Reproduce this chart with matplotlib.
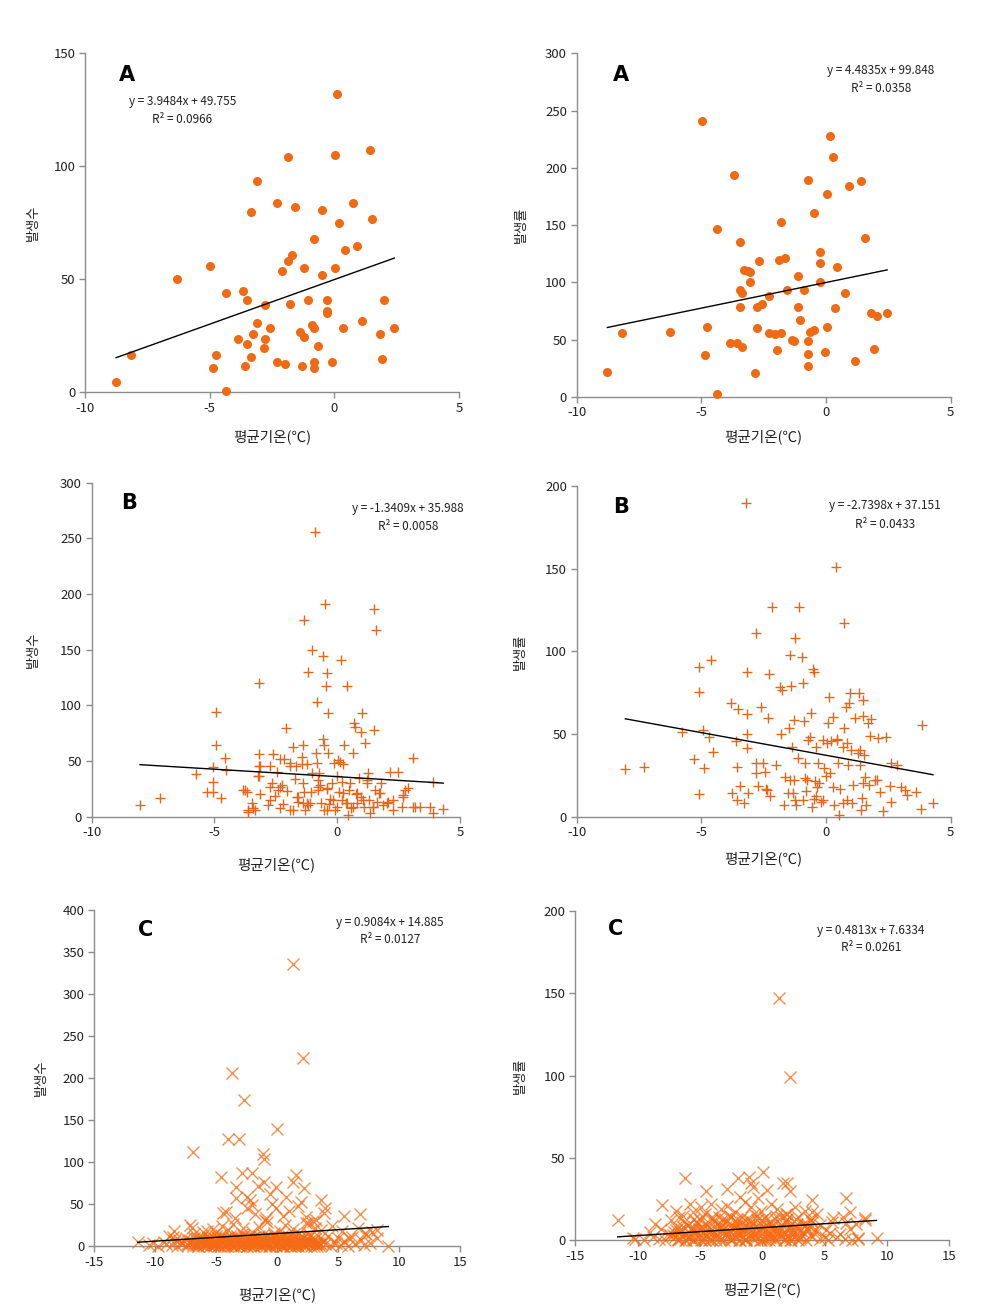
import numpy as np
import matplotlib
matplotlib.use('Agg')
import matplotlib.pyplot as plt

plt.rcParams['font.family'] = ['Noto Sans CJK KR', 'DejaVu Sans']
plt.rcParams['axes.unicode_minus'] = False

# ---------------- data ----------------
# (mean temp, value) pairs

# A : count
a_count = [(-8.75, 4.5), (-8.17, 16.5), (-6.29, 49.9), (-4.98, 55.8), (-4.88, 10.5), (-4.74, 16.5),
           (-4.34, 43.8), (-4.34, 0.6), (-3.86, 23.6), (-3.67, 44.8), (-3.50, 40.9), (-3.50, 21.4),
           (-3.58, 11.5), (-3.35, 79.6), (-3.35, 15.5), (-3.25, 25.5), (-3.09, 93.5), (-3.09, 30.4),
           (-2.77, 38.5), (-2.77, 23.6), (-2.81, 19.6), (-2.59, 28.5), (-2.28, 83.6), (-2.28, 13.4),
           (-2.09, 53.7), (-1.96, 12.4), (-1.87, 104), (-1.87, 57.8), (-1.68, 60.8), (-1.77, 38.9),
           (-1.57, 81.7), (-1.38, 26.5), (-1.29, 11.5), (-1.21, 54.9), (-1.21, 24.5), (-1.05, 40.9),
           (-0.89, 29.5), (-0.80, 28.5), (-0.80, 67.7), (-0.80, 13.4), (-0.80, 10.5), (-0.65, 20.5),
           (-0.49, 80.7), (-0.49, 51.8), (-0.29, 40.9), (-0.29, 35.8), (-0.29, 34.8), (-0.08, 13.4),
           (0.02, 105), (0.02, 54.9), (0.11, 132), (0.19, 74.8), (0.34, 28.5), (0.43, 62.8),
           (0.75, 83.6), (0.93, 64.7), (1.11, 31.4), (1.42, 107), (1.51, 76.7), (1.83, 25.5),
           (1.93, 14.5), (2.01, 40.9), (2.41, 28.5)]

# A : rate
a_rate = [(-8.77, 21.3), (-8.18, 55.9), (-6.26, 56.5), (-4.99, 241), (-4.86, 36.1), (-4.76, 60.6),
          (-4.36, 146.8), (-4.36, 2.6), (-3.87, 47.2), (-3.68, 194), (-3.59, 47.2), (-3.46, 135),
          (-3.46, 93.2), (-3.46, 78.3), (-3.36, 90.9), (-3.36, 43.1), (-3.28, 110.7), (-3.13, 110),
          (-3.04, 108.6), (-3.04, 99.9), (-2.85, 20.4), (-2.77, 59.7), (-2.77, 78.3), (-2.68, 118.5),
          (-2.55, 81), (-2.28, 88.3), (-2.28, 55.9), (-2.05, 54.5), (-1.96, 40.8), (-1.88, 119.1),
          (-1.79, 152.9), (-1.79, 55.9), (-1.63, 121.2), (-1.56, 93.2), (-1.37, 49.8), (-1.28, 48.9),
          (-1.14, 105.7), (-1.14, 78.3), (-1.05, 67.3), (-0.88, 93.2), (-0.74, 189), (-0.74, 48.6),
          (-0.74, 37), (-0.74, 27.1), (-0.65, 56.8), (-0.48, 160.8), (-0.48, 58.3), (-0.25, 126.4),
          (-0.25, 116.5), (-0.25, 99.9), (-0.06, 39), (0.03, 177.4), (0.03, 60.6), (0.16, 227.5),
          (0.26, 209.7), (0.34, 77.2), (0.43, 113.6), (0.75, 90.9), (0.93, 184.4), (1.15, 31.2),
          (1.42, 188.2), (1.55, 138.9), (1.82, 73.4), (1.91, 41.9), (2.05, 70.5), (2.45, 73.4)]

# B : count
b_count = [(-8.03, 10.5), (-7.22, 17), (-5.77, 38), (-5.32, 22), (-5.05, 22), (-5.05, 31), (-5.05, 45),
           (-4.93, 94), (-4.93, 64), (-4.73, 17), (-4.55, 53), (-4.51, 42), (-3.76, 24), (-3.62, 4.5),
           (-3.69, 22.5), (-3.48, 12), (-3.42, 7.5), (-3.35, 6), (-3.21, 37), (-3.17, 120), (-3.17, 56),
           (-3.17, 45.5), (-3.17, 36.5), (-3.15, 20), (-2.81, 10.5), (-2.74, 46), (-2.67, 30), (-2.60, 56),
           (-2.53, 18.5), (-2.47, 40), (-2.40, 24), (-2.33, 7.5), (-2.26, 28.5), (-2.22, 11.5), (-2.17, 52),
           (-2.09, 80), (-2.04, 23), (-1.93, 46), (-1.79, 63), (-1.79, 6), (-1.72, 34), (-1.68, 46),
           (-1.61, 18), (-1.58, 13.5), (-1.45, 54), (-1.45, 47), (-1.41, 64), (-1.38, 30.5), (-1.38, 12),
           (-1.35, 177), (-1.35, 22.5), (-1.31, 6), (-1.24, 47), (-1.18, 130), (-1.18, 10.5), (-1.11, 12),
           (-1.08, 22.5), (-1.04, 150), (-0.91, 256), (-0.87, 57.5), (-0.84, 103), (-0.81, 48), (-0.80, 33),
           (-0.80, 24), (-0.73, 39), (-0.70, 28.5), (-0.66, 12), (-0.59, 144), (-0.57, 69.5), (-0.54, 64),
           (-0.54, 6), (-0.50, 191), (-0.46, 117), (-0.43, 129), (-0.43, 24.5), (-0.37, 93), (-0.37, 57.5),
           (-0.32, 11), (-0.30, 15.5), (-0.20, 30), (-0.14, 48.5), (-0.10, 6), (0.00, 9), (0.00, 36.5),
           (0.04, 51), (0.07, 22.5), (0.14, 141), (0.20, 31.5), (0.20, 15), (0.24, 47), (0.27, 64),
           (0.34, 12), (0.38, 117), (0.45, 1.5), (0.47, 24), (0.58, 7.5), (0.65, 57.5), (0.68, 84),
           (0.72, 81), (0.75, 20), (0.81, 12), (0.88, 34.5), (0.95, 18), (0.99, 76), (1.02, 93.5),
           (1.08, 9), (1.15, 66.5), (1.22, 30), (1.26, 39), (1.29, 15), (1.33, 3), (1.45, 9), (1.51, 78),
           (1.51, 187), (1.55, 24), (1.58, 168), (1.62, 13.5), (1.69, 21), (1.78, 30), (1.88, 10.5),
           (2.08, 13.5), (2.15, 40.5), (2.29, 6), (2.49, 40.5), (2.62, 9), (2.69, 19.5), (2.76, 24),
           (2.89, 25.5), (3.10, 52.5), (3.17, 9), (3.37, 9), (3.78, 9), (3.91, 31.5), (3.91, 3), (4.32, 6.5),
           (-3.83, 24), (-3.62, 6), (-2.74, 27), (-2.33, 27), (-1.65, 18), (-1.24, 12), (-0.43, 25.5),
           (-0.16, 15), (0.25, 21), (0.66, 9), (0.80, 21), (1.07, 15), (1.47, 9), (1.74, 21), (2.02, 12),
           (2.29, 15), (2.69, 18), (3.10, 9), (-0.77, 27), (-1.04, 39), (-1.92, 48), (-2.33, 52),
           (-3.15, 46), (0.13, 49), (1.20, 33), (0.52, 30), (-1.92, 6), (-0.43, 6), (0.39, 12), (-2.74, 15)]

# B : rate
b_rate = [(-8.05, 28.6), (-7.30, 30.2), (-5.79, 51), (-5.29, 34.7), (-5.10, 90.3), (-5.10, 75.2),
          (-5.10, 13.7), (-4.93, 52.6), (-4.90, 29.2), (-4.69, 48.4), (-4.62, 94.8), (-4.53, 39.3),
          (-3.83, 69), (-3.62, 46), (-3.59, 30.2), (-3.52, 64.9), (-3.79, 14.5), (-3.59, 10), (-3.46, 18.5),
          (-3.28, 8.5), (-3.19, 87.7), (-3.19, 62), (-3.19, 50), (-3.19, 41.3), (-3.22, 190), (-3.12, 14.1),
          (-2.82, 110.9), (-2.79, 32.7), (-2.79, 26.6), (-2.72, 18.5), (-2.62, 66.5), (-2.52, 32.3),
          (-2.46, 27.2), (-2.39, 16.5), (-2.32, 59.5), (-2.28, 86.3), (-2.26, 12.5), (-2.15, 126.6),
          (-1.99, 31.3), (-1.86, 78.2), (-1.79, 49.8), (-1.75, 76.6), (-1.70, 7), (-1.66, 23.8),
          (-1.52, 14.5), (-1.48, 53.4), (-1.43, 97.8), (-1.39, 79), (-1.35, 42.3), (-1.30, 58.7),
          (-1.30, 22.2), (-1.26, 108.3), (-1.24, 10), (-1.19, 7), (-1.12, 35.3), (-1.08, 126.6),
          (-0.95, 96.8), (-0.92, 80.6), (-0.89, 58), (-0.85, 32.3), (-0.85, 23.2), (-0.81, 15.7),
          (-0.72, 46.4), (-0.65, 48.4), (-0.59, 62.9), (-0.55, 5.6), (-0.52, 89.1), (-0.49, 10.5),
          (-0.47, 87.7), (-0.45, 21.8), (-0.41, 41.9), (-0.40, 12.5), (-0.33, 32.3), (-0.27, 20.6),
          (-0.20, 9.1), (-0.11, 46.4), (-0.07, 29.2), (0.00, 24.6), (0.07, 56.5), (0.13, 72.2), (0.20, 46),
          (0.27, 17.7), (0.29, 60.1), (0.33, 7), (0.40, 151.2), (0.43, 46.8), (0.47, 32.3), (0.51, 1),
          (0.56, 16.5), (0.67, 8.1), (0.71, 116.9), (0.73, 53.4), (0.80, 66.1), (0.83, 44.4), (0.87, 31.3),
          (0.91, 68.5), (0.96, 75), (1.00, 40.3), (1.04, 8.1), (1.07, 19.2), (1.17, 59.5), (1.27, 38.3),
          (1.31, 75), (1.36, 31.3), (1.40, 4), (1.44, 11.1), (1.47, 70.6), (1.50, 60.9), (1.53, 37.3),
          (1.57, 24.2), (1.60, 7), (1.67, 56.9), (1.73, 19.2), (1.76, 48.8), (1.80, 58.9), (1.95, 22.2),
          (2.08, 47.4), (2.15, 15.1), (2.28, 3.6), (2.42, 48.4), (2.55, 18.5), (2.62, 32.3), (2.62, 9.1),
          (2.84, 31.3), (3.02, 18.1), (3.15, 16.1), (3.24, 13.1), (3.62, 15.1), (3.82, 4.4), (3.86, 55.4),
          (4.29, 8.1), (-1.44, 22.2), (-0.77, 22.2), (-0.37, 18.1), (0.16, 26.2), (0.83, 10.1),
          (1.50, 20.2), (2.03, 22.2), (-0.91, 10.1), (-0.11, 10.1), (-2.38, 16.1), (-1.31, 14.1),
          (0.69, 42.3), (1.36, 40.3), (0.43, 46.4), (0.03, 44.4)]

# C : count
c_count = [(1.26, 335.7), (2.13, 223.4), (-3.67, 206.3), (-2.71, 173.8), (-0.03, 138.9), (-4.0, 127),
           (-3.12, 127), (-6.93, 112.3), (-1.20, 109.1), (-1.12, 103.2), (-4.59, 81.7), (-2.87, 86.5),
           (-2.05, 86.5), (1.53, 84.5), (1.26, 76.6), (-1.07, 76.6), (-3.34, 70.6), (-1.61, 71.4),
           (-0.11, 70.6), (2.21, 68.7), (-3.40, 56.7), (-2.45, 58.7), (0.71, 57.9), (3.58, 54.8),
           (1.94, 52.8), (-2.05, 48.8), (-0.11, 44.8), (-4.43, 39.7), (3.86, 39.7), (5.51, 35.7),
           (6.79, 38.1), (-7.13, 25), (-5.78, 18.3), (-11.45, 5.2), (9.12, 0), (7.20, 15), (8.16, 19),
           (-0.93, 32.9), (2.35, 27), (3.17, 31), (5.92, 9), (4.83, 3), (3.45, 4), (-10.22, 3),
           (-8.58, 11), (-8.04, 7),
           (-10.5, 1), (-9.8, 0), (-9.1, 2), (-8.6, 1), (-8.2, 0), (-7.7, 3), (-7.3, 1), (-6.9, 2),
           (-6.5, 0), (-6.2, 1), (-5.8, 3), (-5.5, 0), (-5.1, 2), (-4.8, 1), (-4.4, 0), (-4.1, 2),
           (-3.7, 1), (-3.4, 3), (-3.0, 0), (-2.7, 2), (-2.3, 1), (-2.0, 0), (-1.6, 3), (-1.3, 1),
           (-0.9, 2), (-0.6, 0), (-0.2, 1), (0.1, 3), (0.5, 0), (0.8, 2), (1.2, 1), (1.5, 0), (1.9, 2),
           (2.2, 1), (2.6, 3), (3.0, 0), (3.4, 1), (3.9, 2), (4.4, 0), (5.2, 1), (5.8, 0), (6.4, 2),
           (7.1, 1), (7.6, 3),
           (-9.3, 5), (-8.4, 7), (-7.9, 4), (-7.1, 6), (-6.6, 8), (-6.0, 5), (-5.6, 7), (-5.2, 4),
           (-4.7, 6), (-4.3, 8), (-3.9, 5), (-3.5, 7), (-3.1, 4), (-2.6, 6), (-2.2, 8), (-1.8, 5),
           (-1.4, 7), (-1.0, 4), (-0.5, 6), (-0.1, 8), (0.3, 5), (0.7, 7), (1.1, 4), (1.6, 6), (2.0, 8),
           (2.4, 5), (2.9, 7), (3.3, 4), (3.8, 6), (4.6, 5), (5.5, 6), (6.9, 7),
           (-8.9, 12), (-7.5, 10), (-6.8, 14), (-6.3, 9), (-5.7, 11), (-5.0, 15), (-4.6, 13), (-3.8, 10),
           (-3.3, 12), (-2.9, 14), (-2.4, 9), (-1.9, 11), (-1.2, 13), (-0.7, 10), (-0.3, 15), (0.4, 12),
           (0.9, 9), (1.4, 14), (2.1, 11), (2.7, 13), (3.5, 10), (4.2, 12), (5.0, 9), (6.1, 11),
           (7.3, 14), (8.2, 10),
           (-8.5, 18), (-7.0, 22), (-6.1, 17), (-5.3, 20), (-4.5, 24), (-4.0, 19), (-3.6, 26), (-2.8, 21),
           (-2.1, 17), (-1.5, 23), (-0.8, 28), (0.2, 18), (0.6, 25), (1.3, 20), (1.8, 16), (2.5, 27),
           (3.1, 22), (3.6, 19), (4.5, 24), (5.3, 18), (6.6, 21), (7.8, 17),
           (-4.2, 40), (-3.5, 33), (-2.5, 45), (-1.8, 38), (-1.0, 31), (-0.4, 50), (0.5, 36), (1.0, 42),
           (1.7, 48), (2.4, 35), (2.9, 30), (3.9, 45), (-2.2, 55), (-0.6, 62),
           # dense core
           (-7.4, 2), (-7.0, 5), (-6.7, 1), (-6.4, 4), (-6.1, 7), (-5.9, 2), (-5.6, 5), (-5.3, 1),
           (-5.1, 8), (-4.9, 3), (-4.6, 6), (-4.4, 2), (-4.2, 9), (-4.0, 4), (-3.8, 1), (-3.6, 6),
           (-3.4, 3), (-3.2, 8), (-3.0, 5), (-2.8, 2), (-2.6, 7), (-2.4, 4), (-2.2, 1), (-2.0, 6),
           (-1.8, 3), (-1.6, 9), (-1.4, 5), (-1.2, 2), (-1.0, 7), (-0.8, 4), (-0.6, 1), (-0.4, 8),
           (-0.2, 3), (0.0, 6), (0.2, 2), (0.4, 9), (0.6, 4), (0.8, 1), (1.0, 7), (1.2, 3), (1.4, 5),
           (1.6, 2), (1.8, 8), (2.0, 4), (2.3, 1), (2.6, 6), (2.9, 3), (3.2, 2),
           (-6.8, 9), (-6.2, 11), (-5.7, 10), (-5.0, 12), (-4.5, 10), (-3.9, 12), (-3.3, 11), (-2.7, 13),
           (-2.1, 10), (-1.5, 12), (-0.9, 11), (-0.3, 13), (0.3, 10), (0.9, 12), (1.5, 11), (2.1, 10),
           (2.7, 12),
           (-6.5, 0), (-5.8, 0), (-5.2, 0), (-4.7, 0), (-4.1, 0), (-3.6, 0), (-3.1, 0), (-2.5, 0),
           (-1.9, 0), (-1.3, 0), (-0.7, 0), (-0.1, 0), (0.5, 0), (1.1, 0), (1.7, 0), (2.4, 0), (3.3, 0),
           (-7.2, 4), (-6.9, 0), (-6.6, 3), (-6.3, 6), (-6.0, 1), (-5.7, 4), (-5.4, 2), (-5.15, 6),
           (-4.85, 0), (-4.55, 4), (-4.3, 1), (-4.05, 5), (-3.75, 3), (-3.5, 0), (-3.25, 5), (-2.95, 2),
           (-2.7, 4), (-2.45, 0), (-2.15, 5), (-1.95, 2), (-1.7, 4), (-1.45, 1), (-1.15, 5), (-0.95, 0),
           (-0.65, 3), (-0.45, 6), (-0.15, 1), (0.05, 4), (0.35, 0), (0.55, 5), (0.85, 3), (1.05, 0),
           (1.35, 4), (1.65, 1), (1.85, 5), (2.15, 2), (2.45, 4), (2.75, 0), (3.05, 3), (3.6, 2),
           (-5.5, 9), (-4.8, 8), (-4.0, 10), (-3.0, 9), (-2.3, 11), (-1.7, 8), (-1.1, 10), (-0.5, 9),
           (0.1, 11), (0.7, 8), (1.3, 9), (1.9, 11), (2.5, 9), (3.1, 8)]

# C : rate
c_rate = [(1.34, 147), (2.20, 99.4), (0.05, 41.7), (-1.07, 38.7), (-1.96, 37.7), (-6.17, 37.7),
          (1.66, 35), (2.01, 35), (-0.88, 34.6), (-4.54, 30.2), (-2.80, 31), (0.38, 30.6), (2.20, 29.6),
          (-0.75, 32.6), (-1.82, 26.5), (-0.35, 25.5), (6.75, 25.5), (4.02, 24.5), (-5.79, 22),
          (-8.07, 21.5), (7.02, 17.4), (-11.6, 12.3), (8.22, 13.4), (9.16, 1.2), (-10.40, 1.2),
          (5.0, 2.2), (5.40, 4.3), (7.68, 1.2), (5.67, 13.4), (6.75, 10.3),
          (-10.2, 1), (-9.5, 0), (-8.8, 2), (-8.3, 1), (-7.8, 0), (-7.4, 3), (-7.0, 2), (-6.6, 1),
          (-6.2, 0), (-5.8, 2), (-5.4, 1), (-5.0, 3), (-4.6, 0), (-4.2, 1), (-3.8, 2), (-3.4, 0),
          (-3.0, 3), (-2.6, 1), (-2.2, 2), (-1.8, 0), (-1.4, 1), (-1.0, 3), (-0.6, 2), (-0.2, 0),
          (0.2, 1), (0.6, 2), (1.0, 0), (1.4, 3), (1.8, 1), (2.2, 0), (2.6, 2), (3.0, 1), (3.5, 0),
          (4.0, 2), (4.6, 1), (5.3, 0), (6.0, 2), (6.6, 1), (7.2, 0), (7.7, 1),
          (-9.0, 5), (-8.1, 7), (-7.6, 4), (-6.9, 6), (-6.4, 8), (-5.9, 5), (-5.5, 6), (-5.1, 7),
          (-4.7, 4), (-4.3, 8), (-3.9, 5), (-3.5, 6), (-3.1, 7), (-2.7, 4), (-2.3, 8), (-1.9, 6),
          (-1.5, 5), (-1.1, 7), (-0.7, 4), (-0.3, 6), (0.1, 8), (0.5, 5), (0.9, 7), (1.3, 6), (1.7, 4),
          (2.1, 8), (2.5, 5), (3.0, 6), (3.6, 7), (4.3, 5), (5.1, 6), (6.2, 4), (7.0, 7),
          (-8.6, 10), (-7.3, 12), (-6.7, 14), (-6.0, 9), (-5.3, 11), (-4.8, 15), (-4.0, 13), (-3.6, 10),
          (-3.2, 12), (-2.5, 14), (-2.0, 9), (-1.6, 11), (-1.2, 13), (-0.8, 10), (-0.4, 15), (0.3, 12),
          (0.8, 9), (1.5, 14), (2.0, 11), (2.7, 13), (3.3, 10), (3.9, 12), (4.6, 9), (5.6, 11),
          (6.5, 14), (7.5, 10), (8.2, 12),
          (-6.9, 18), (-5.6, 17), (-4.9, 20), (-4.1, 22), (-3.3, 19), (-2.8, 21), (-2.2, 17), (-1.4, 23),
          (-0.9, 20), (-0.1, 18), (0.7, 22), (1.2, 19), (1.9, 16), (2.6, 20), (3.4, 18), (4.0, 17),
          (4.4, 16),
          # dense core
          (-7.2, 3), (-6.9, 8), (-6.6, 5), (-6.3, 11), (-6.0, 2), (-5.7, 7), (-5.4, 4), (-5.2, 10),
          (-4.9, 6), (-4.7, 1), (-4.4, 9), (-4.2, 5), (-3.9, 12), (-3.7, 3), (-3.4, 8), (-3.2, 6),
          (-2.9, 11), (-2.7, 2), (-2.5, 9), (-2.2, 5), (-2.0, 13), (-1.8, 4), (-1.5, 8), (-1.3, 1),
          (-1.1, 10), (-0.9, 6), (-0.6, 3), (-0.4, 12), (-0.2, 7), (0.0, 4), (0.3, 9), (0.5, 2),
          (0.7, 11), (0.9, 6), (1.2, 3), (1.4, 8), (1.7, 5), (1.9, 12), (2.2, 2), (2.5, 7), (2.8, 10),
          (3.1, 4), (3.4, 9), (3.7, 6), (4.0, 11),
          (-6.4, 15), (-5.5, 13), (-4.6, 16), (-3.5, 14), (-2.6, 15), (-1.6, 14), (-0.7, 16), (0.2, 14),
          (1.1, 15), (2.0, 16), (2.9, 14), (3.8, 13),
          (-6.8, 0), (-6.1, 0), (-5.5, 0), (-4.9, 0), (-4.3, 0), (-3.7, 0), (-3.1, 0), (-2.5, 0),
          (-1.9, 0), (-1.3, 0), (-0.7, 0), (-0.1, 0), (0.5, 0), (1.1, 0), (1.7, 0), (2.3, 0), (2.9, 0),
          (-7.1, 5), (-6.8, 1), (-6.5, 7), (-6.2, 3), (-5.95, 9), (-5.65, 0), (-5.35, 6), (-5.05, 2),
          (-4.8, 8), (-4.5, 3), (-4.25, 6), (-4.0, 0), (-3.7, 7), (-3.45, 2), (-3.2, 9), (-2.95, 4),
          (-2.65, 6), (-2.4, 1), (-2.1, 8), (-1.85, 3), (-1.6, 6), (-1.35, 0), (-1.05, 8), (-0.8, 2),
          (-0.5, 5), (-0.25, 9), (0.05, 1), (0.25, 6), (0.55, 3), (0.8, 8), (1.05, 2), (1.3, 5),
          (1.6, 9), (1.85, 1), (2.1, 6), (2.4, 3), (2.7, 8), (3.0, 2), (3.3, 5), (3.6, 10), (3.9, 3),
          (4.2, 7),
          (-5.0, 12), (-3.0, 13), (-1.0, 12), (1.0, 13), (-4.0, 14), (-2.0, 11), (0.0, 12), (2.0, 13)]

# Excel trend lines (slope, intercept, R^2)
a_count_fit = (3.9484, 49.755, '0.0966')
a_rate_fit = (4.4835, 99.848, '0.0358')
b_count_fit = (-1.3409, 35.988, '0.0058')
b_rate_fit = (-2.7398, 37.151, '0.0433')
c_count_fit = (0.9084, 14.885, '0.0127')
c_rate_fit = (0.4813, 7.6334, '0.0261')

xlabel = '평균기온(℃)'
ylabel_count = '발생수'
ylabel_rate = '발생률'

orange = '#F06A14'


def draw_panel(rect, pts, fit, letter, ylabel, xlim, ylim, ystep, marker,
               letter_pos, eq_pos, ylab_x, xlab_y):
    ax = fig.add_axes(rect)
    x, y = np.array(pts).T
    if marker == 'o':
        ax.plot(x, y, 'o', color=orange, ms=6.5, mew=0, clip_on=False, zorder=3)
    elif marker == '+':
        ax.plot(x, y, '+', color='#E2661C', ms=7, mew=1.0, clip_on=False, zorder=3)
    else:
        ax.plot(x, y, 'x', color='#F56A14', ms=8.5, mew=1.0, alpha=0.75, clip_on=False, zorder=3)

    slope, icpt, r2 = fit
    xs = np.array([x.min(), x.max()])
    ax.plot(xs, slope * xs + icpt, color='black', lw=1.0, zorder=4)

    sign = '+' if icpt >= 0 else '-'
    ax.text(eq_pos[0], eq_pos[1], 'y = %sx %s %s' % (('%.4f' % slope), sign, ('%g' % icpt)),
            transform=ax.transAxes, ha='center', va='center', fontsize=8.5, color='#222222')
    ax.text(eq_pos[0], eq_pos[2], 'R² = %s' % r2,
            transform=ax.transAxes, ha='center', va='center', fontsize=8.5, color='#222222')
    ax.text(letter_pos[0], letter_pos[1], letter, transform=ax.transAxes,
            ha='center', va='center', fontsize=15, fontweight='bold', family='DejaVu Sans')

    ax.set_xlim(xlim)
    ax.set_ylim(ylim)
    ax.set_xticks(np.arange(xlim[0], xlim[1] + 1, 5))
    ax.set_yticks(np.arange(ylim[0], ylim[1] + 1, ystep))
    for s in ['top', 'right']:
        ax.spines[s].set_visible(False)
    for s in ['left', 'bottom']:
        ax.spines[s].set_color('#8c8c8c')
        ax.spines[s].set_linewidth(1.0)
    ax.tick_params(direction='out', length=4, width=1, color='#8c8c8c',
                   labelsize=9.5, labelcolor='#222222', pad=3)

    ax.set_ylabel(ylabel, fontsize=9.5, color='#222222')
    ax.yaxis.set_label_coords(ylab_x, 0.5)
    ax.yaxis.label.set_va('center')
    ax.set_xlabel(xlabel, fontsize=10.5, color='#222222')
    ax.xaxis.set_label_coords(0.5, xlab_y)
    ax.xaxis.label.set_va('center')
    return ax


fig = plt.figure(figsize=(9.93, 13.12), dpi=100)

draw_panel([0.0856, 0.7012, 0.3766, 0.2584], a_count, a_count_fit, 'A', ylabel_count,
           (-10, 5), (0, 150), 50, 'o', (0.112, 0.935), (0.26, 0.856, 0.804), -0.139, -0.132)
draw_panel([0.5808, 0.6976, 0.3766, 0.2617], a_rate, a_rate_fit, 'A', ylabel_rate,
           (-10, 5), (0, 300), 50, 'o', (0.117, 0.936), (0.813, 0.951, 0.899), -0.147, -0.118)

draw_panel([0.0923, 0.3775, 0.3709, 0.2546], b_count, b_count_fit, 'B', ylabel_count,
           (-10, 5), (0, 300), 50, '+', (0.102, 0.938), (0.859, 0.922, 0.870), -0.159, -0.145)
draw_panel([0.5808, 0.3775, 0.3766, 0.2521], b_rate, b_rate_fit, 'B', ylabel_rate,
           (-10, 5), (0, 200), 50, '+', (0.118, 0.937), (0.824, 0.940, 0.885), -0.150, -0.126)

draw_panel([0.0950, 0.0503, 0.3683, 0.2561], c_count, c_count_fit, 'C', ylabel_count,
           (-15, 15), (0, 400), 50, 'x', (0.139, 0.940), (0.808, 0.963, 0.911), -0.144, -0.144)
draw_panel([0.5794, 0.0547, 0.3766, 0.2510], c_rate, c_rate_fit, 'C', ylabel_rate,
           (-15, 15), (0, 200), 50, 'x', (0.109, 0.944), (0.791, 0.942, 0.889), -0.148, -0.151)

plt.savefig('out.png', dpi=100)
